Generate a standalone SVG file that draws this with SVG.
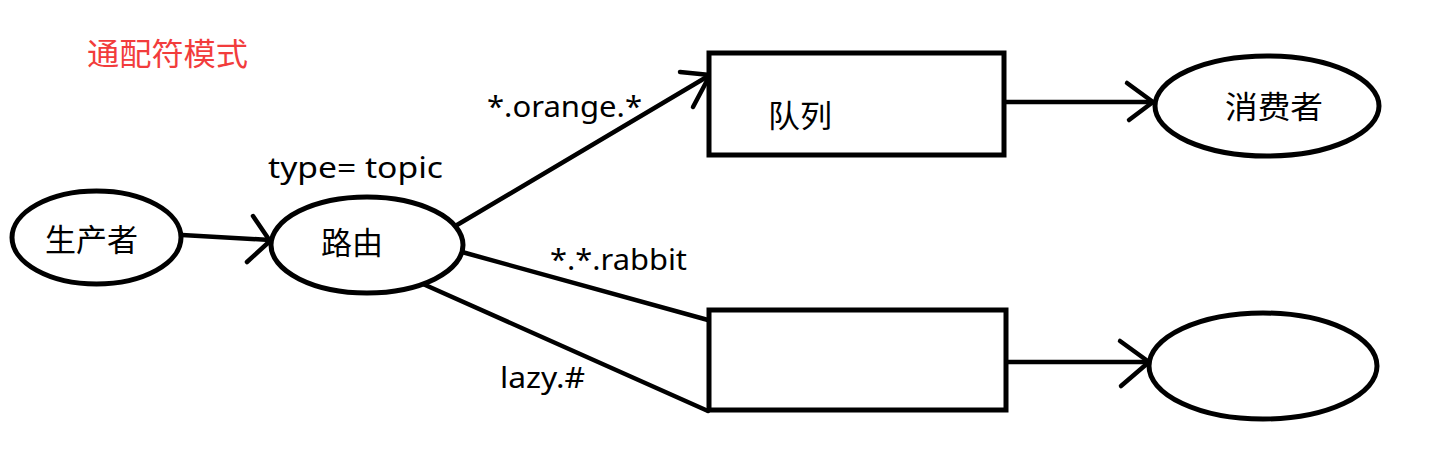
<svg xmlns="http://www.w3.org/2000/svg" width="1455" height="453" viewBox="0 0 1455 453">
<style>
.shape{fill:#fff;stroke:#000;stroke-width:5}
.ln{fill:none;stroke:#000;stroke-width:4.5;stroke-linecap:round;stroke-linejoin:round}
.cjk{font-family:"Noto Sans CJK SC","Noto Sans",sans-serif;font-size:31px;fill:#000}
.lbl{font-family:"Noto Sans","Liberation Sans","Noto Sans CJK SC",sans-serif;font-size:29px;fill:#000}
.title{font-family:"Noto Sans CJK SC",sans-serif;font-size:31px;fill:#f23c3c}
</style>
<rect width="1455" height="453" fill="#fff"/>
<text class="title" x="87" y="65" textLength="161" lengthAdjust="spacingAndGlyphs">通配符模式</text>
<g id="connectors">
  <line class="ln" x1="182" y1="235" x2="270" y2="240"/>
  <polyline class="ln" points="253,216 270,241 247,262"/>
  <line class="ln" x1="457" y1="225" x2="710" y2="75"/>
  <polyline class="ln" points="680,72 710,75 693,107"/>
  <line class="ln" x1="462" y1="252" x2="708" y2="320"/>
  <line class="ln" x1="423" y1="284" x2="708" y2="411"/>
  <line class="ln" x1="1006" y1="102" x2="1153" y2="102"/>
  <polyline class="ln" points="1127,83 1153,102 1129,120"/>
  <line class="ln" x1="1006" y1="362" x2="1149" y2="362"/>
  <polyline class="ln" points="1120,341 1149,362 1121,386"/>
  <text class="lbl" x="268" y="178" textLength="175" lengthAdjust="spacingAndGlyphs">type= topic</text>
  <text class="lbl" x="487" y="117" textLength="155" lengthAdjust="spacingAndGlyphs">*.orange.*</text>
  <text class="lbl" x="550" y="270" textLength="137" lengthAdjust="spacingAndGlyphs">*.*.rabbit</text>
  <text class="lbl" x="500" y="388" textLength="85" lengthAdjust="spacingAndGlyphs">lazy.#</text>
</g>
<g id="producer">
  <ellipse class="shape" cx="96.5" cy="237.5" rx="84.5" ry="46.5"/>
  <text class="cjk" x="45" y="251" textLength="93" lengthAdjust="spacingAndGlyphs">生产者</text>
</g>
<g id="router">
  <ellipse class="shape" cx="367" cy="245" rx="96" ry="48"/>
  <text class="cjk" x="321" y="254" textLength="62" lengthAdjust="spacingAndGlyphs">路由</text>
</g>
<g id="queue1">
  <rect class="shape" x="709" y="53" width="295" height="102"/>
  <text class="cjk" x="768" y="127" textLength="64" lengthAdjust="spacingAndGlyphs">队列</text>
</g>
<g id="queue2">
  <rect class="shape" x="709" y="310" width="297" height="100"/>
</g>
<g id="consumer1">
  <ellipse class="shape" cx="1267" cy="106" rx="112" ry="50"/>
  <text class="cjk" x="1225" y="118" textLength="98" lengthAdjust="spacingAndGlyphs">消费者</text>
</g>
<g id="consumer2">
  <ellipse class="shape" cx="1263" cy="366" rx="114" ry="53"/>
</g>
</svg>
